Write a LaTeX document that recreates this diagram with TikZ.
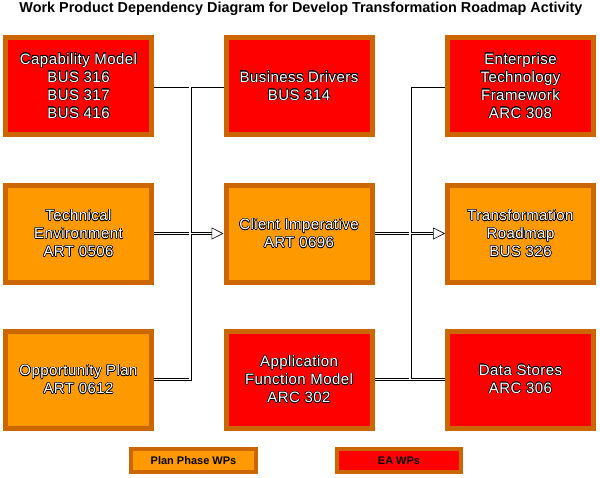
\documentclass[tikz,border=0pt]{standalone}
\usepackage{fontspec}
\setmainfont{Liberation Sans}
\usepackage[copies]{contour}
\contourlength{0.55pt}
\usetikzlibrary{arrows.meta}
\definecolor{eared}{HTML}{FF0000}
\definecolor{planor}{HTML}{FF9900}
\definecolor{brd}{HTML}{CC6600}
\newcommand\ol[1]{\contour{black}{#1}}
\tikzset{
  wpbox/.style={draw=brd, line width=5pt, minimum width=146pt, minimum height=97pt,
    inner sep=0pt, align=center, text=white,
    font=\fontsize{15}{18}\selectfont\addfontfeature{LetterSpace=3}},
  redwp/.style={wpbox, fill=eared},
  orwp/.style={wpbox, fill=planor},
  legbox/.style={draw=brd, line width=4pt, minimum height=23pt, inner sep=0pt,
    font=\fontsize{11}{12}\selectfont\bfseries, text=black},
  connout/.style={draw=black, line width=3pt},
  connin/.style={draw=white, line width=1.4pt},
  tipst/.style={draw=black, line width=0.6pt, -{Triangle[fill=white,length=12pt,width=12pt]}},
}
\begin{document}
\begin{tikzpicture}[x=1pt,y=-1pt]
\useasboundingbox (0,0) rectangle (600,477);
\node[font=\fontsize{14.4}{16}\selectfont\bfseries] (title) at (301,9) {Work Product Dependency Diagram for Develop Transformation Roadmap Activity};

\node[redwp] (cap) at (78.5,86) {\ol{Capability Model}\\\ol{BUS 316}\\\ol{BUS 317}\\\ol{BUS 416}};
\node[orwp] (tech) at (78.5,233.5) {\ol{Technical}\\\ol{Environment}\\\ol{ART 0506}};
\node[orwp] (opp) at (78.5,379.5) {\ol{Opportunity Plan}\\\ol{ART 0612}};

\node[redwp] (bd) at (299,86) {\ol{Business Drivers}\\\ol{BUS 314}};
\node[orwp] (client) at (299,233.5) {\ol{Client Imperative}\\\ol{ART 0696}};
\node[redwp] (app) at (299,379.5) {\ol{Application}\\\ol{Function Model}\\\ol{ARC 302}};

\node[redwp] (etf) at (520.5,86) {\ol{Enterprise}\\\ol{Technology}\\\ol{Framework}\\\ol{ARC 308}};
\node[orwp] (tr) at (520.5,233.5) {\ol{Transformation}\\\ol{Roadmap}\\\ol{BUS 326}};
\node[redwp] (ds) at (520.5,379.5) {\ol{Data Stores}\\\ol{ARC 306}};

\node[legbox, fill=planor, minimum width=125pt] (legplan) at (193.5,460.5) {Plan Phase WPs};
\node[legbox, fill=eared, minimum width=124pt] (legea) at (399,460.5) {EA WPs};

\coordinate (lbus) at (190,0);
\coordinate (rbus) at (410,0);

\foreach \st in {connout,connin}{
  \draw[\st] (cap.east) -- (bd.west);
  \draw[\st] (cap.east -| lbus) -- (opp.east -| lbus) -- (opp.east);
  \draw[\st] (tech.east) -- ([xshift=-12pt]client.west);
  \draw[\st] (etf.west) -- (etf.west -| rbus) -- (app.east -| rbus);
  \draw[\st] (app.east) -- (ds.west);
  \draw[\st] (client.east) -- ([xshift=-12pt]tr.west);
}
\draw[tipst] ([xshift=-12pt]client.west) -- (client.west);
\draw[tipst] ([xshift=-12pt]tr.west) -- (tr.west);
\end{tikzpicture}
\end{document}
